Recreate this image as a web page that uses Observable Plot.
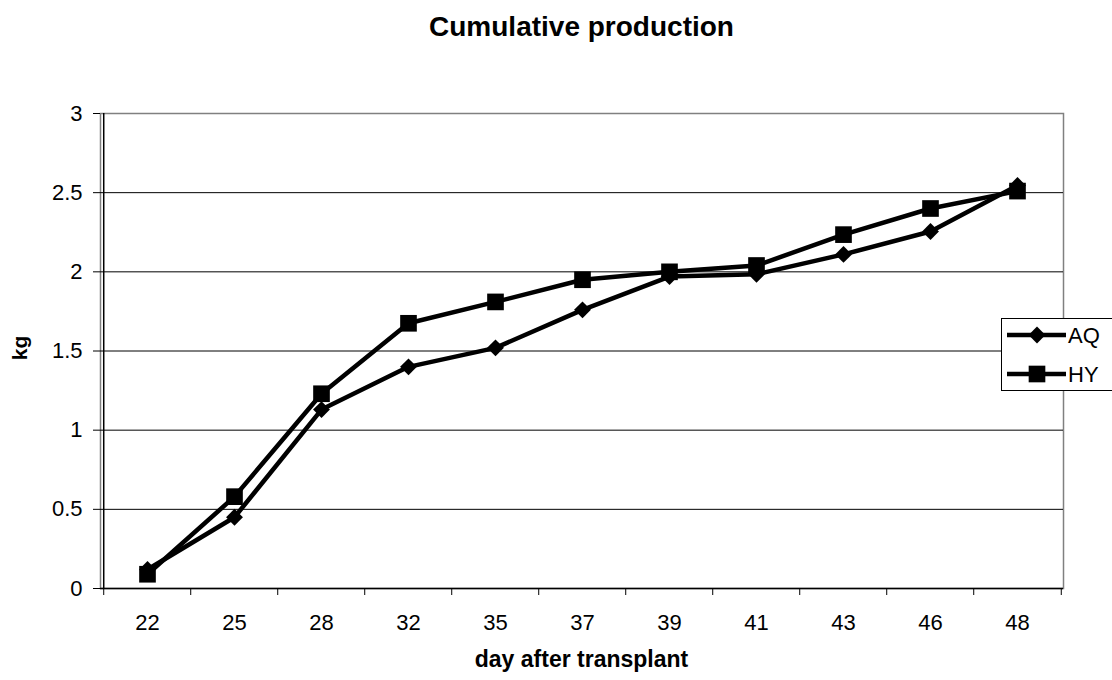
<!DOCTYPE html>
<html><head><meta charset="utf-8">
<script src="https://cdn.jsdelivr.net/npm/d3@7"></script>
<script src="https://cdn.jsdelivr.net/npm/@observablehq/plot@0.6"></script>
<style>
body{margin:0;background:#fff;font-family:"Liberation Sans",Arial,sans-serif;color:#000;}
#wrap{position:relative;width:1112px;height:680px;overflow:hidden;background:#fff;}
#chart{position:absolute;left:0;top:0;}
#title{position:absolute;left:0;width:1163px;top:13px;text-align:center;font-weight:bold;font-size:28px;line-height:28px;white-space:nowrap;}
#xlabel{position:absolute;left:0;width:1163px;top:648px;text-align:center;font-weight:bold;font-size:23px;line-height:23px;white-space:nowrap;}
#ylabel{position:absolute;left:19px;top:348px;transform:translate(-50%,-50%) rotate(-90deg);font-weight:bold;font-size:21px;line-height:21px;white-space:nowrap;}
#legend{position:absolute;left:1001px;top:318px;width:130px;height:73px;border:1px solid #000;background:#fff;box-sizing:border-box;}
#legend svg{position:absolute;left:0;top:0;}
</style></head><body>
<div id="wrap">
  <div id="chart"></div>
  <div id="title">Cumulative production</div>
  <div id="ylabel">kg</div>
  <div id="xlabel">day after transplant</div>
  <div id="legend"></div>
</div>
<script>
// ---- data ----
const days = ["22","25","28","32","35","37","39","41","43","46","48"];
const aqValues = [0.12, 0.45, 1.13, 1.40, 1.52, 1.76, 1.97, 1.985, 2.11, 2.255, 2.545];
const hyValues = [0.09, 0.58, 1.23, 1.675, 1.81, 1.95, 2.00, 2.04, 2.235, 2.40, 2.51];
const seriesNames = ["AQ", "HY"];
const yTicks = [0, 0.5, 1, 1.5, 2, 2.5, 3];

const rows = [
  ...days.map((d, i) => ({day: d, series: "AQ", value: aqValues[i]})),
  ...days.map((d, i) => ({day: d, series: "HY", value: hyValues[i]}))
];

// ---- layout ----
const W = 1112, H = 680, mL = 100, mR = 49, mT = 113, mB = 92;
const step = (W - mL - mR) / days.length;
const innerH = H - mT - mB;
const font = "Liberation Sans, Arial, sans-serif";
const rDiamond = 7.6, rSquare = 9.4;

const chart = Plot.plot({
  width: W, height: H,
  marginLeft: mL, marginRight: mR, marginTop: mT, marginBottom: mB,
  style: {fontFamily: font, fontSize: "22px", color: "#000", background: "transparent", overflow: "visible"},
  x: {type: "point", domain: days, padding: 0.5},
  y: {domain: [0, 3]},
  marks: [
    Plot.frame({stroke: "#808080", strokeWidth: 1.5}),
    Plot.gridY(yTicks.filter(t => t > 0 && t < 3), {stroke: "#000", strokeOpacity: 1, strokeWidth: 1}),
    Plot.ruleY([0], {stroke: "#000", strokeWidth: 1.5}),
    Plot.ruleX([days[0]], {dx: -step / 2, stroke: "#000", strokeWidth: 1.5}),
    Plot.ruleX(days, {x: d => d, dx: -step / 2, insetTop: innerH, insetBottom: -7, stroke: "#000"}),
    Plot.ruleX([days[days.length - 1]], {dx: step / 2, insetTop: innerH, insetBottom: -7, stroke: "#000"}),
    Plot.axisY({ticks: yTicks, tickFormat: d => String(d), tickSize: 7, tickPadding: 11, label: null, fontSize: 22, stroke: "#000"}),
    Plot.axisX({tickSize: 0, tickPadding: 26, label: null, fontSize: 22}),
    Plot.line(rows, {x: "day", y: "value", z: "series", stroke: "#000", strokeWidth: 4.5, strokeLinejoin: "round"}),
    Plot.dot(rows.filter(r => r.series === "AQ"), {x: "day", y: "value", symbol: "diamond2", r: rDiamond, fill: "#000", stroke: "none"}),
    Plot.dot(rows.filter(r => r.series === "HY"), {x: "day", y: "value", symbol: "square", r: rSquare, fill: "#000", stroke: "none"})
  ]
});
document.getElementById("chart").appendChild(chart);

// ---- legend ----
const legendSymbols = {AQ: d3.symbolDiamond2, HY: d3.symbolSquare};
const legendSizes = {AQ: Math.PI * rDiamond * rDiamond, HY: Math.PI * rSquare * rSquare};
const lg = d3.select("#legend").append("svg").attr("width", 130).attr("height", 73);
seriesNames.forEach((name, i) => {
  const cy = 16 + i * 39;
  lg.append("line").attr("x1", 5).attr("x2", 64).attr("y1", cy).attr("y2", cy)
    .attr("stroke", "#000").attr("stroke-width", 4.5);
  lg.append("path").attr("d", d3.symbol(legendSymbols[name], legendSizes[name])())
    .attr("transform", `translate(35,${cy})`).attr("fill", "#000");
  lg.append("text").attr("x", 66).attr("y", cy + 8).text(name)
    .attr("font-family", font).attr("font-size", 22).attr("fill", "#000");
});
</script>
</body></html>
